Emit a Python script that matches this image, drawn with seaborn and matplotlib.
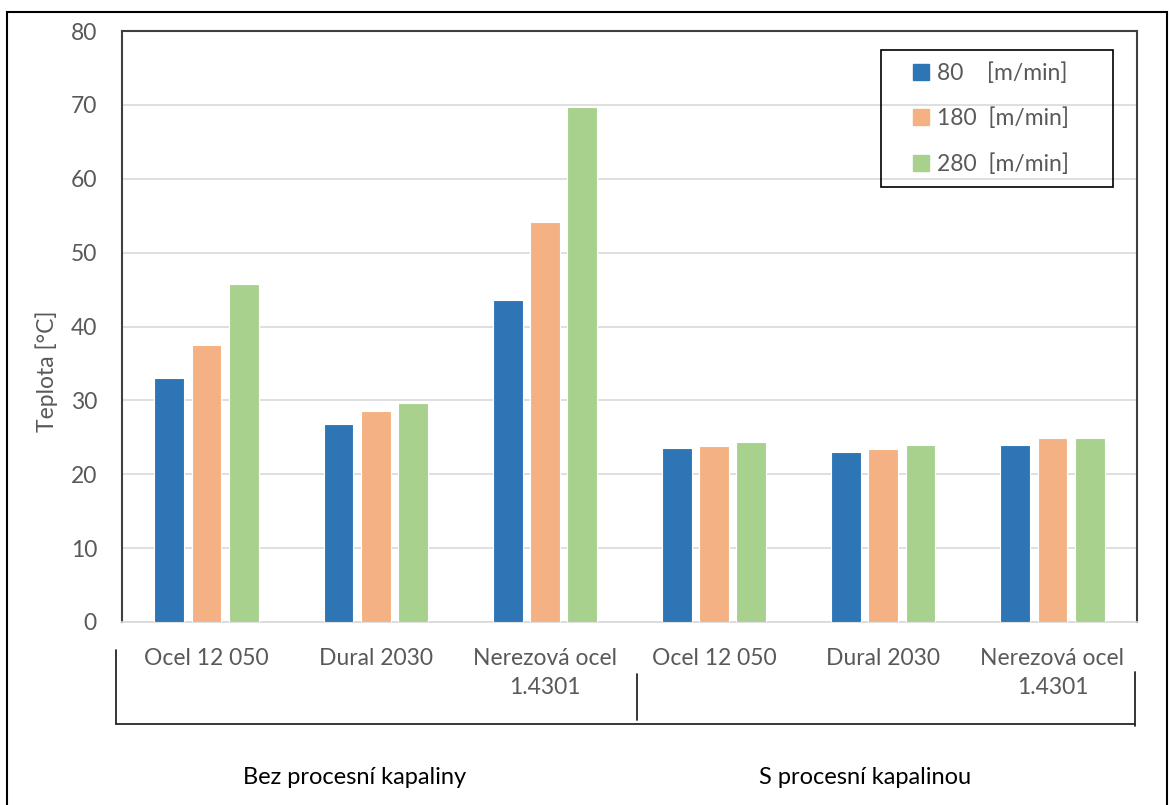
import matplotlib
matplotlib.use("Agg")
from matplotlib import pyplot as plt
from matplotlib.lines import Line2D
from matplotlib.patches import Rectangle
import seaborn as sns
import pandas as pd
import numpy as np

# Data
materialy = ["Ocel 12 050", "Dural 2030", "Nerezová ocel\n1.4301",
             "Ocel 12 050", "Dural 2030", "Nerezová ocel\n1.4301"]
skupiny = ["Bez procesní kapaliny", "S procesní kapalinou"]
rychlosti = ["80    [m/min]", "180  [m/min]", "280  [m/min]"]
teplota_80 = [33.0, 26.8, 43.6, 23.5, 23.0, 24.0]
teplota_180 = [37.5, 28.5, 54.2, 23.8, 23.4, 24.9]
teplota_280 = [45.7, 29.6, 69.7, 24.3, 24.0, 24.9]
barvy = ["#2E75B6", "#F4B183", "#A9D18E"]

# long format pro seaborn
radky = []
for hodnoty, rychlost in zip([teplota_80, teplota_180, teplota_280], rychlosti):
    for i, h in enumerate(hodnoty):
        radky.append({"pozice": i, "rychlost": rychlost, "teplota": h})
df = pd.DataFrame(radky)

sns.set_style("white")
plt.rcParams['font.family'] = ['Lato', 'DejaVu Sans']

sedy_text = "#595959"
vel = 16.5


def px(x, y):
    # pixely obrazku -> souradnice figury
    return x / 1170, 1 - y / 805


fig = plt.figure(figsize=(11.7, 8.05), dpi=100)
ax = fig.add_axes([122 / 1170, 1 - 622 / 805, 1015 / 1170, 591 / 805])

sns.barplot(data=df, x="pozice", y="teplota", hue="rychlost", hue_order=rychlosti,
            palette=barvy, saturation=1, width=0.66, gap=0.2, errorbar=None,
            edgecolor="white", linewidth=0.8, ax=ax, zorder=3)

ax.set_ylim(0, 80)
ax.set_xlim(-0.5, 5.5)
ax.set_yticks(np.arange(0, 81, 10))
ax.yaxis.grid(True, color="#D9D9D9", linewidth=1.2, zorder=0)
ax.set_axisbelow(True)

ax.set_xticks(range(len(materialy)))
ax.set_xticklabels(materialy)
for t in ax.get_xticklabels():
    t.set_linespacing(1.45)
ax.tick_params(axis="x", length=0, pad=19, labelsize=vel, labelcolor=sedy_text)
ax.tick_params(axis="y", length=0, pad=18, labelsize=vel, labelcolor=sedy_text)

ax.set_xlabel("")
ax.set_ylabel("")
lx, ly = px(47, 371)
fig.text(lx, ly, "Teplota [°C]", rotation=90, ha="center", va="center",
         fontsize=vel, color=sedy_text)

for strana in ["left", "top", "right"]:
    ax.spines[strana].set_color("#404040")
    ax.spines[strana].set_linewidth(1.5)
ax.spines["bottom"].set_color("#D9D9D9")
ax.spines["bottom"].set_linewidth(1.2)

# legenda (ramecek zvlast, Excel ma vetsi vodorovne okraje)
handles = [Line2D([0], [0], marker="s", linestyle="", markersize=11,
                  markerfacecolor=b, markeredgecolor=b) for b in barvy]
leg = ax.legend(handles, rychlosti, loc="upper left",
                bbox_to_anchor=px(913, 62), bbox_transform=fig.transFigure,
                frameon=False, fontsize=vel, labelspacing=1.05,
                handlelength=0.7, handletextpad=0.35, borderpad=0, borderaxespad=0)
for t in leg.get_texts():
    t.set_color(sedy_text)
bx, by = px(881, 187)
fig.add_artist(Rectangle((bx, by), 232 / 1170, 137 / 805, transform=fig.transFigure,
                         fill=False, edgecolor="black", linewidth=1.2))

# zavorky skupin pod osou
car = dict(color="#262626", linewidth=1.3, transform=fig.transFigure)
x0, y0 = px(116, 650)
x1, y1 = px(1135, 724)
fig.add_artist(Line2D([x0, x0], [y0, y1], **car))
fig.add_artist(Line2D([x0, x1], [y1, y1], **car))
xr, yr = px(1135, 672)
fig.add_artist(Line2D([xr, xr], [yr, px(0, 726)[1]], **car))
xm, ym = px(637, 674)
fig.add_artist(Line2D([xm, xm], [ym, px(0, 720)[1]], **car))

for skupina, xs in zip(skupiny, [355, 865]):
    fx, fy = px(xs, 777)
    fig.text(fx, fy, skupina, ha="center", va="center", fontsize=17, color="black")

# ramecek kolem celeho grafu
fig.add_artist(Rectangle((7 / 1170, -0.02), 1160 / 1170, 1 - 12 / 805 + 0.02,
                         transform=fig.transFigure, fill=False,
                         edgecolor="black", linewidth=1.5))

fig.savefig("out.png", dpi=100)
